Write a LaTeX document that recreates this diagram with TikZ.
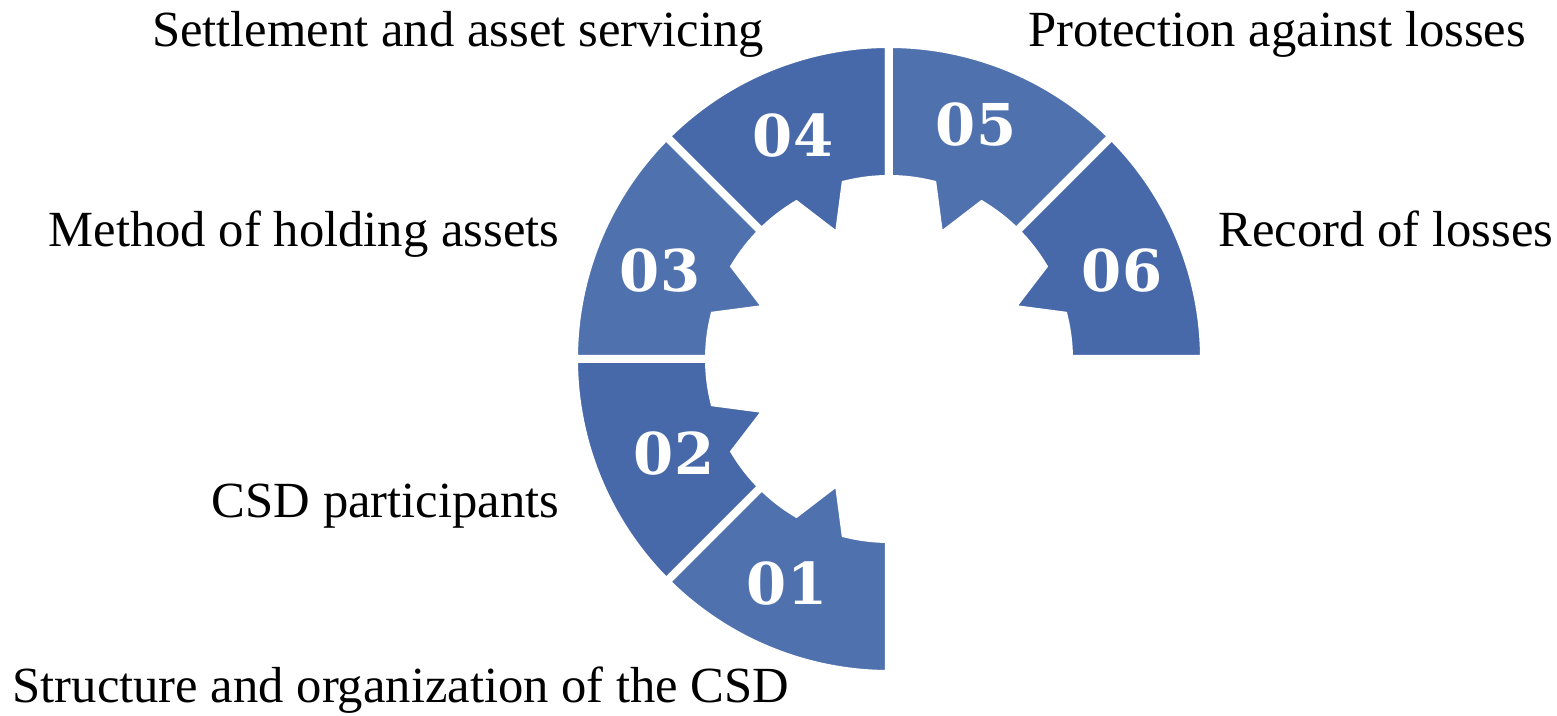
\documentclass[tikz,border=0pt]{standalone}
\usepackage{fontspec}
\setmainfont{Liberation Serif}
\newfontfamily\numfont{DejaVu Serif}

\definecolor{segLight}{RGB}{79,114,175}
\definecolor{segDark}{RGB}{71,105,170}

\tikzset{
  segment/.style={draw=white, line width=0.08cm},
  itemtext/.style={inner sep=0pt, font=\fontsize{14.4}{17}\selectfont},
  numtext/.style={text=white, inner sep=0pt, font=\numfont\bfseries\fontsize{16.4}{19}\selectfont},
}

\begin{document}
\begin{tikzpicture}[x=0.01cm, y=0.01cm]
  \def\rout{315}
  \def\rin{180}
  \def\rtip{132}
  \useasboundingbox (-889,-357) rectangle (668,359);

  \foreach \k/\col/\nx/\ny in {1/segLight/-102/-225, 2/segDark/-215/-95, 3/segLight/-229/88,
                               4/segDark/-96/223, 5/segLight/87/234, 6/segDark/233/88} {
    % each piece covers 45 degrees, 01 starts at the bottom
    \pgfmathsetmacro\sa{270 - 45*\k}
    \pgfmathsetmacro\ea{\sa + 45}
    \pgfmathsetmacro\ma{\sa + 22.5}
    \filldraw[segment, fill=\col] (\sa:\rout)
      arc[start angle=\sa, end angle=\ea, radius=\rout]
      -- (\ea:\rin) arc[start angle=\ea, end angle=\ma+8.5, radius=\rin]
      -- (\ma:\rtip) -- (\ma-8.5:\rin)
      arc[start angle=\ma-8.5, end angle=\sa, radius=\rin] -- cycle;
    \node[numtext] (num\k) at (\nx,\ny) {0\k};
  }

  \node[itemtext, anchor=base] (settle) at (-431,312) {Settlement and asset servicing};
  \node[itemtext, anchor=base] (protect) at (388,312) {Protection against losses};
  \node[itemtext, anchor=base east] (method) at (-329,112) {Method of holding assets};
  \node[itemtext, anchor=base] (record) at (497,112) {Record of losses};
  \node[itemtext, anchor=base east] (particip) at (-329,-159) {CSD participants};
  \node[itemtext, anchor=base] (struct) at (-488,-344) {Structure and organization of the CSD};
\end{tikzpicture}
\end{document}
